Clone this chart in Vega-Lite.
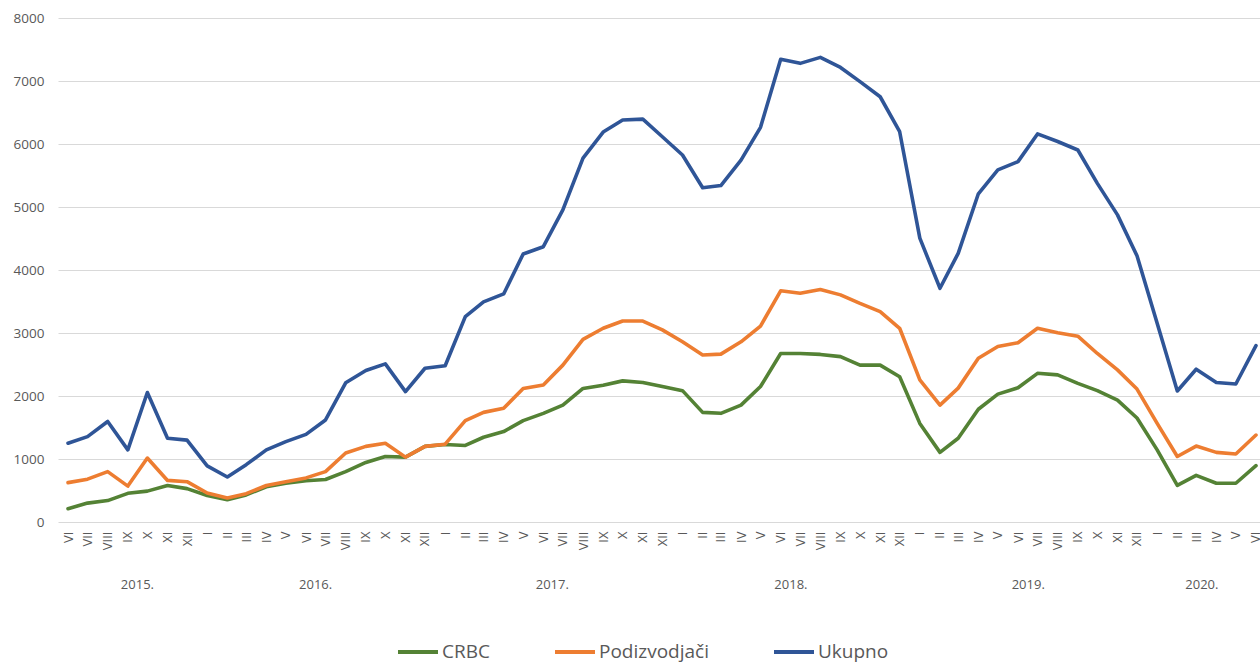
{
  "$schema": "https://vega.github.io/schema/vega-lite/v6.json",
  "width": 1202,
  "height": 504,
  "autosize": {"type": "none"},
  "padding": {"left": 58, "top": 18, "right": 0, "bottom": 143},
  "background": "white",
  "config": {
    "view": {"stroke": null},
    "font": "Open Sans"
  },
  "layer": [
    {
      "data": {
        "values": [
          {"date": "2015-06-01", "CRBC": 210, "Podizvodjači": 625, "Ukupno": 1250},
          {"date": "2015-07-01", "CRBC": 300, "Podizvodjači": 680, "Ukupno": 1355},
          {"date": "2015-08-01", "CRBC": 340, "Podizvodjači": 800, "Ukupno": 1595},
          {"date": "2015-09-01", "CRBC": 455, "Podizvodjači": 570, "Ukupno": 1145},
          {"date": "2015-10-01", "CRBC": 490, "Podizvodjači": 1015, "Ukupno": 2055},
          {"date": "2015-11-01", "CRBC": 580, "Podizvodjači": 660, "Ukupno": 1330},
          {"date": "2015-12-01", "CRBC": 530, "Podizvodjači": 640, "Ukupno": 1300},
          {"date": "2016-01-01", "CRBC": 420, "Podizvodjači": 460, "Ukupno": 890},
          {"date": "2016-02-01", "CRBC": 355, "Podizvodjači": 380, "Ukupno": 715},
          {"date": "2016-03-01", "CRBC": 430, "Podizvodjači": 450, "Ukupno": 910},
          {"date": "2016-04-01", "CRBC": 560, "Podizvodjači": 580, "Ukupno": 1145},
          {"date": "2016-05-01", "CRBC": 615, "Podizvodjači": 640, "Ukupno": 1275},
          {"date": "2016-06-01", "CRBC": 655, "Podizvodjači": 700, "Ukupno": 1390},
          {"date": "2016-07-01", "CRBC": 675, "Podizvodjači": 800, "Ukupno": 1620},
          {"date": "2016-08-01", "CRBC": 800, "Podizvodjači": 1095, "Ukupno": 2210},
          {"date": "2016-09-01", "CRBC": 945, "Podizvodjači": 1200, "Ukupno": 2405},
          {"date": "2016-10-01", "CRBC": 1040, "Podizvodjači": 1250, "Ukupno": 2510},
          {"date": "2016-11-01", "CRBC": 1030, "Podizvodjači": 1030, "Ukupno": 2070},
          {"date": "2016-12-01", "CRBC": 1200, "Podizvodjači": 1200, "Ukupno": 2440},
          {"date": "2017-01-01", "CRBC": 1230, "Podizvodjači": 1235, "Ukupno": 2480},
          {"date": "2017-02-01", "CRBC": 1215, "Podizvodjači": 1610, "Ukupno": 3260},
          {"date": "2017-03-01", "CRBC": 1345, "Podizvodjači": 1740, "Ukupno": 3495},
          {"date": "2017-04-01", "CRBC": 1435, "Podizvodjači": 1805, "Ukupno": 3620},
          {"date": "2017-05-01", "CRBC": 1610, "Podizvodjači": 2120, "Ukupno": 4255},
          {"date": "2017-06-01", "CRBC": 1725, "Podizvodjači": 2175, "Ukupno": 4370},
          {"date": "2017-07-01", "CRBC": 1855, "Podizvodjači": 2490, "Ukupno": 4955},
          {"date": "2017-08-01", "CRBC": 2120, "Podizvodjači": 2900, "Ukupno": 5775},
          {"date": "2017-09-01", "CRBC": 2170, "Podizvodjači": 3075, "Ukupno": 6190},
          {"date": "2017-10-01", "CRBC": 2240, "Podizvodjači": 3190, "Ukupno": 6380},
          {"date": "2017-11-01", "CRBC": 2215, "Podizvodjači": 3190, "Ukupno": 6395},
          {"date": "2017-12-01", "CRBC": 2150, "Podizvodjači": 3050, "Ukupno": 6115},
          {"date": "2018-01-01", "CRBC": 2085, "Podizvodjači": 2860, "Ukupno": 5825},
          {"date": "2018-02-01", "CRBC": 1740, "Podizvodjači": 2650, "Ukupno": 5305},
          {"date": "2018-03-01", "CRBC": 1725, "Podizvodjači": 2665, "Ukupno": 5340},
          {"date": "2018-04-01", "CRBC": 1855, "Podizvodjači": 2860, "Ukupno": 5745},
          {"date": "2018-05-01", "CRBC": 2150, "Podizvodjači": 3110, "Ukupno": 6265},
          {"date": "2018-06-01", "CRBC": 2675, "Podizvodjači": 3670, "Ukupno": 7345},
          {"date": "2018-07-01", "CRBC": 2675, "Podizvodjači": 3630, "Ukupno": 7280},
          {"date": "2018-08-01", "CRBC": 2660, "Podizvodjači": 3690, "Ukupno": 7375},
          {"date": "2018-09-01", "CRBC": 2625, "Podizvodjači": 3605, "Ukupno": 7215},
          {"date": "2018-10-01", "CRBC": 2490, "Podizvodjači": 3470, "Ukupno": 6990},
          {"date": "2018-11-01", "CRBC": 2490, "Podizvodjači": 3340, "Ukupno": 6750},
          {"date": "2018-12-01", "CRBC": 2305, "Podizvodjači": 3075, "Ukupno": 6195},
          {"date": "2019-01-01", "CRBC": 1565, "Podizvodjači": 2255, "Ukupno": 4505},
          {"date": "2019-02-01", "CRBC": 1105, "Podizvodjači": 1855, "Ukupno": 3710},
          {"date": "2019-03-01", "CRBC": 1330, "Podizvodjači": 2125, "Ukupno": 4265},
          {"date": "2019-04-01", "CRBC": 1790, "Podizvodjači": 2600, "Ukupno": 5210},
          {"date": "2019-05-01", "CRBC": 2030, "Podizvodjači": 2785, "Ukupno": 5590},
          {"date": "2019-06-01", "CRBC": 2130, "Podizvodjači": 2845, "Ukupno": 5720},
          {"date": "2019-07-01", "CRBC": 2360, "Podizvodjači": 3075, "Ukupno": 6160},
          {"date": "2019-08-01", "CRBC": 2335, "Podizvodjači": 3005, "Ukupno": 6040},
          {"date": "2019-09-01", "CRBC": 2200, "Podizvodjači": 2950, "Ukupno": 5905},
          {"date": "2019-10-01", "CRBC": 2085, "Podizvodjači": 2675, "Ukupno": 5375},
          {"date": "2019-11-01", "CRBC": 1935, "Podizvodjači": 2415, "Ukupno": 4875},
          {"date": "2019-12-01", "CRBC": 1650, "Podizvodjači": 2110, "Ukupno": 4225},
          {"date": "2020-01-01", "CRBC": 1145, "Podizvodjači": 1565, "Ukupno": 3155},
          {"date": "2020-02-01", "CRBC": 580, "Podizvodjači": 1040, "Ukupno": 2080},
          {"date": "2020-03-01", "CRBC": 740, "Podizvodjači": 1205, "Ukupno": 2425},
          {"date": "2020-04-01", "CRBC": 615, "Podizvodjači": 1105, "Ukupno": 2215},
          {"date": "2020-05-01", "CRBC": 615, "Podizvodjači": 1080, "Ukupno": 2190},
          {"date": "2020-06-01", "CRBC": 895, "Podizvodjači": 1380, "Ukupno": 2800}
        ]
      },
      "transform": [
        {"fold": ["CRBC", "Podizvodjači", "Ukupno"], "as": ["series", "value"]}
      ],
      "mark": {"type": "line", "strokeWidth": 3.6, "strokeJoin": "round", "strokeCap": "round"},
      "encoding": {
        "x": {
          "field": "date",
          "type": "temporal",
          "scale": {
            "type": "utc",
            "domain": [
              {"year": 2015, "month": 5, "date": 16, "hours": 14, "utc": true},
              {"year": 2020, "month": 6, "date": 7, "hours": 4, "utc": true}
            ]
          },
          "axis": {
            "title": null,
            "orient": "bottom",
            "grid": false,
            "domain": false,
            "ticks": false,
            "tickCount": {"interval": "month", "step": 1},
            "labelExpr": "['I','II','III','IV','V','VI','VII','VIII','IX','X','XI','XII'][utcmonth(datum.value)]",
            "labelAngle": -90,
            "labelAlign": "right",
            "labelBaseline": "middle",
            "labelPadding": 9,
            "labelFontSize": 13,
            "labelColor": "#595959",
            "labelOverlap": false,
            "labelFlush": false,
            "labelBound": false
          }
        },
        "y": {
          "field": "value",
          "type": "quantitative",
          "scale": {"domain": [0, 8000], "nice": false},
          "axis": {
            "title": null,
            "values": [0, 1000, 2000, 3000, 4000, 5000, 6000, 7000, 8000],
            "format": "d",
            "domain": false,
            "ticks": false,
            "grid": true,
            "gridColor": "#d9d9d9",
            "gridWidth": 1,
            "labelPadding": 14,
            "labelFontSize": 13.5,
            "labelColor": "#595959"
          }
        },
        "color": {
          "field": "series",
          "type": "nominal",
          "scale": {
            "domain": ["CRBC", "Podizvodjači", "Ukupno"],
            "range": ["#548235", "#ed7d31", "#2f5597"]
          },
          "legend": {
            "title": null,
            "orient": "none",
            "legendX": 338,
            "legendY": 612,
            "direction": "horizontal",
            "padding": 0,
            "symbolType": "stroke",
            "symbolSize": 1600,
            "symbolStrokeWidth": 4,
            "labelFontSize": 19,
            "labelColor": "#595959",
            "labelOffset": 2,
            "columnPadding": 57
          }
        }
      }
    },
    {
      "data": {
        "values": [
          {"date": "2015-09-15", "year": "2015."},
          {"date": "2016-06-15", "year": "2016."},
          {"date": "2017-06-14", "year": "2017."},
          {"date": "2018-06-16", "year": "2018."},
          {"date": "2019-06-16", "year": "2019."},
          {"date": "2020-03-09", "year": "2020."}
        ]
      },
      "mark": {"type": "point", "opacity": 0},
      "encoding": {
        "x": {
          "field": "date",
          "type": "temporal",
          "axis": {
            "title": null,
            "orient": "bottom",
            "offset": 50,
            "grid": false,
            "domain": false,
            "ticks": false,
            "values": [
              {"year": 2015, "month": 9, "date": 15, "utc": true},
              {"year": 2016, "month": 6, "date": 15, "utc": true},
              {"year": 2017, "month": 6, "date": 14, "utc": true},
              {"year": 2018, "month": 6, "date": 16, "utc": true},
              {"year": 2019, "month": 6, "date": 16, "utc": true},
              {"year": 2020, "month": 3, "date": 9, "utc": true}
            ],
            "labelExpr": "utcFormat(datum.value, '%Y') + '.'",
            "labelAngle": 0,
            "labelPadding": 6,
            "labelFontSize": 13,
            "labelColor": "#595959",
            "labelOverlap": false,
            "labelFlush": false,
            "labelBound": false
          }
        }
      }
    }
  ],
  "resolve": {"axis": {"x": "independent"}}
}
